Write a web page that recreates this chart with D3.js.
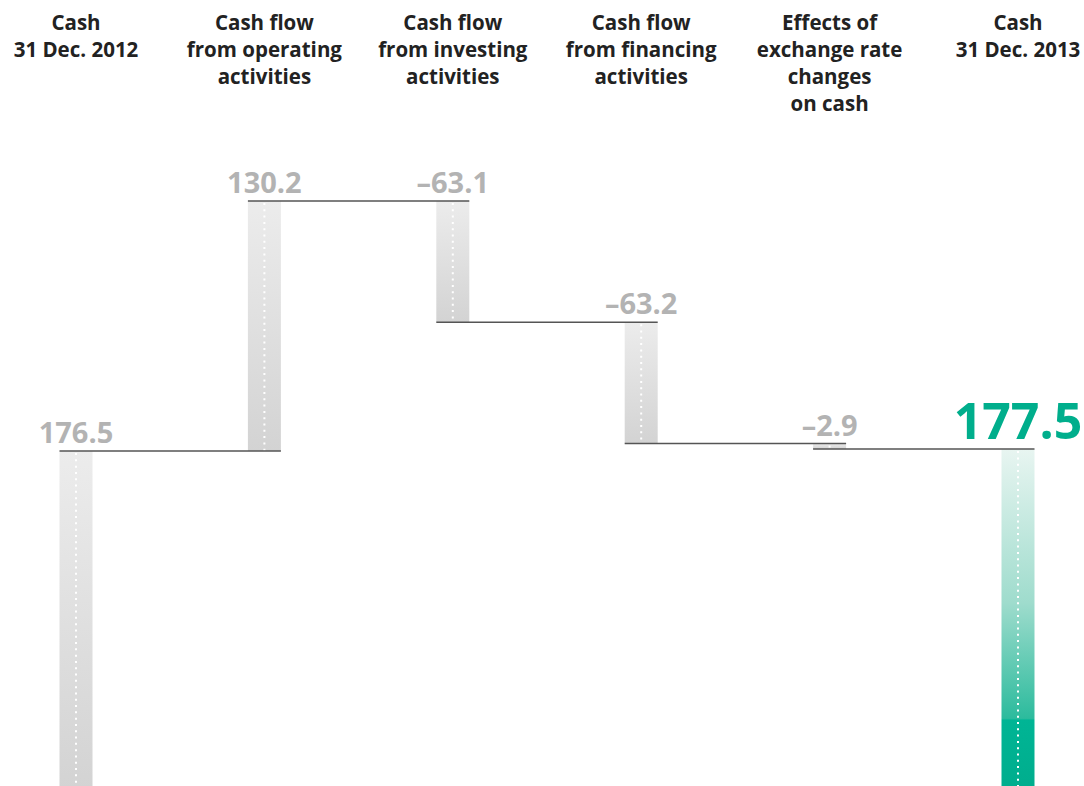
<!DOCTYPE html>
<html>
<head>
<meta charset="utf-8">
<script src="https://cdn.jsdelivr.net/npm/d3@7"></script>
<style>
  body { margin: 0; background: #fff; }
  svg text { font-family: "Open Sans", "Noto Sans", sans-serif; }
</style>
</head>
<body>
<div id="container"></div>
<script>
/* CONSTANTS AND GLOBALS */
const width = 1084,
  height = 786,
  barWidth = 33;

/* DATA */
const categories = ["start", "operating", "investing", "financing", "fx", "end"];
const headers = [
  ["Cash", "31 Dec. 2012"],
  ["Cash flow", "from operating", "activities"],
  ["Cash flow", "from investing", "activities"],
  ["Cash flow", "from financing", "activities"],
  ["Effects of", "exchange rate", "changes", "on cash"],
  ["Cash", "31 Dec. 2013"]
];
const values = [176.5, 130.2, -63.1, -63.2, -2.9, 177.5];
const valueLabels = ["176.5", "130.2", "–63.1", "–63.2", "–2.9", "177.5"];

// running totals for the waterfall
let running = 0;
const bars = values.map((v, i) => {
  let y0, y1;
  if (i === 0 || i === values.length - 1) {
    y0 = 0; y1 = v; running = v;
  } else {
    y0 = running; y1 = running + v; running = y1;
  }
  return { cat: categories[i], i, v, lo: Math.min(y0, y1), hi: Math.max(y0, y1), end: y1 };
});

/* SCALES */
const xScale = d3.scalePoint()
  .domain(categories)
  .range([76, 1018]);

const yScale = d3.scaleLinear()
  .domain([0, d3.max(bars, d => d.hi)])
  .range([790, 201]);

/* HTML ELEMENTS */
const svg = d3.select("#container")
  .append("svg")
  .attr("width", width)
  .attr("height", height);

const defs = svg.append("defs");

const grey = defs.append("linearGradient")
  .attr("id", "grey")
  .attr("x1", 0).attr("y1", 0).attr("x2", 0).attr("y2", 1);
grey.append("stop").attr("offset", 0).attr("stop-color", "#ececec");
grey.append("stop").attr("offset", 1).attr("stop-color", "#d3d3d3");

const green = defs.append("linearGradient")
  .attr("id", "green")
  .attr("x1", 0).attr("y1", 0).attr("x2", 0).attr("y2", 1);
green.append("stop").attr("offset", 0).attr("stop-color", "#e8f5f1");
green.append("stop").attr("offset", 0.45).attr("stop-color", "#9fdccd");
green.append("stop").attr("offset", 0.79).attr("stop-color", "#2cbb9d");
green.append("stop").attr("offset", 0.795).attr("stop-color", "#00b595");
green.append("stop").attr("offset", 1).attr("stop-color", "#00ad8d");

//Headers
const head = svg.append("g")
  .selectAll("text")
  .data(headers)
  .join("text")
  .attr("x", (d, i) => xScale(categories[i]))
  .attr("y", 30)
  .attr("text-anchor", "middle")
  .style("font-size", "20.5px")
  .style("font-weight", 700)
  .style("fill", "#222");

head.selectAll("tspan")
  .data(d => d)
  .join("tspan")
  .attr("x", function () { return this.parentNode.getAttribute("x"); })
  .attr("dy", (d, j) => j === 0 ? 0 : 27)
  .text(d => d);

//Bars
svg.selectAll(".bar")
  .data(bars)
  .join("rect")
  .attr("class", "bar")
  .attr("x", d => xScale(d.cat) - barWidth / 2)
  .attr("width", barWidth)
  .attr("y", d => yScale(d.hi))
  .attr("height", d => yScale(d.lo) - yScale(d.hi))
  .attr("fill", d => d.i === bars.length - 1 ? "url(#green)" : "url(#grey)");

//Dotted centre lines
svg.selectAll(".dots")
  .data(bars)
  .join("line")
  .attr("class", "dots")
  .attr("x1", d => xScale(d.cat))
  .attr("x2", d => xScale(d.cat))
  .attr("y1", d => yScale(d.hi) + 2)
  .attr("y2", d => yScale(d.lo))
  .attr("stroke", "#fff")
  .attr("stroke-width", 2)
  .attr("stroke-dasharray", "2,4.3");

//Connector lines
svg.selectAll(".connector")
  .data(bars.slice(0, -1))
  .join("line")
  .attr("class", "connector")
  .attr("x1", d => xScale(d.cat) - barWidth / 2)
  .attr("x2", d => xScale(categories[d.i + 1]) + barWidth / 2)
  .attr("y1", d => yScale(d.end))
  .attr("y2", d => yScale(d.end))
  .attr("stroke", "#555")
  .attr("stroke-width", 1.5);

//Value labels
svg.selectAll(".label")
  .data(bars)
  .join("text")
  .attr("class", "label")
  .attr("x", d => xScale(d.cat))
  .attr("y", d => yScale(d.hi) - (d.i === bars.length - 1 ? 10 : 8))
  .attr("text-anchor", "middle")
  .style("font-weight", 700)
  .style("font-size", d => d.i === bars.length - 1 ? "50px" : "29px")
  .style("fill", d => d.i === bars.length - 1 ? "#00ae8c" : "#b3b3b3")
  .text(d => valueLabels[d.i]);
</script>
</body>
</html>
